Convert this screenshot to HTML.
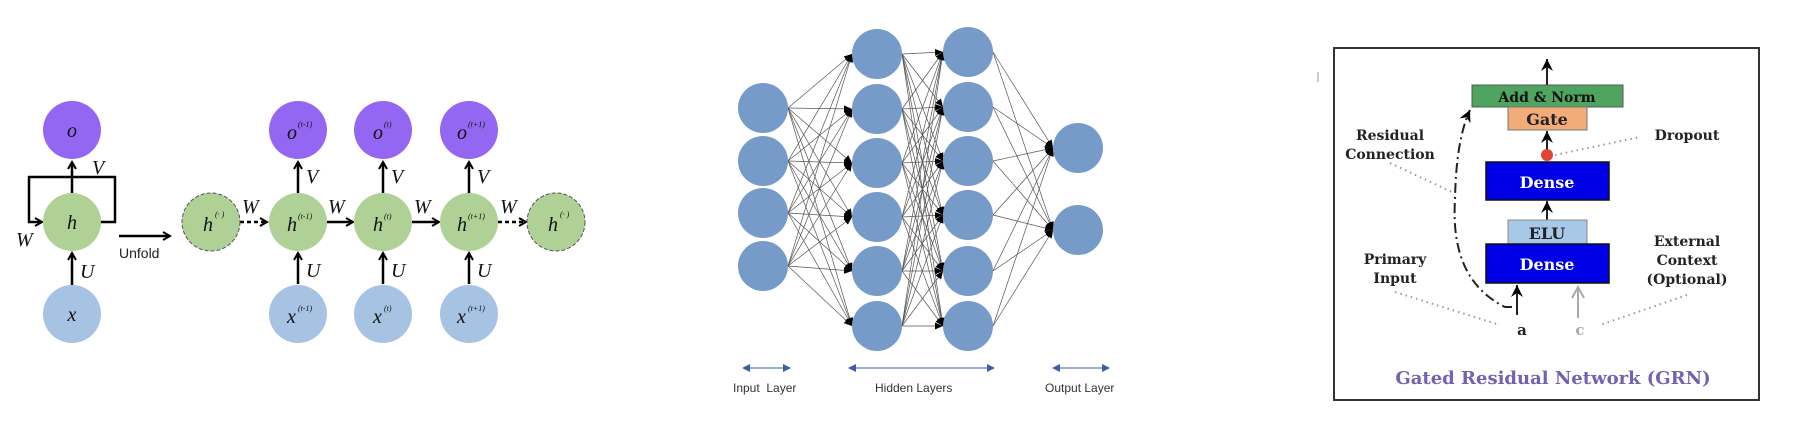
<!DOCTYPE html>
<html><head><meta charset="utf-8"><style>
html,body{margin:0;padding:0;background:#fff;}
svg{display:block}
.it{font-family:"Liberation Serif",serif;font-style:italic;fill:#111}
.nn{font-family:"Liberation Sans",sans-serif;font-size:12px;fill:#333;white-space:pre}
.sb{font-family:"DejaVu Serif","Liberation Serif",serif;font-weight:bold;font-size:14px;fill:#222}
</style></head><body>
<svg width="1796" height="422" viewBox="0 0 1796 422" xmlns="http://www.w3.org/2000/svg">
<defs>
<marker id="ah" markerWidth="10" markerHeight="10" refX="8" refY="5" orient="auto" markerUnits="userSpaceOnUse">
<path d="M1,1 L8,5 L1,9" fill="none" stroke="#000" stroke-width="2"/></marker>
<marker id="nh" markerWidth="10" markerHeight="10" refX="8" refY="5" orient="auto" markerUnits="userSpaceOnUse">
<path d="M0,1.5 L8,5 L0,8.5 z" fill="#000"/></marker>
<marker id="gh" markerWidth="14" markerHeight="14" refX="12" refY="7" orient="auto" markerUnits="userSpaceOnUse">
<path d="M0,1 L12,7 L0,13 L4,7 z" fill="#000"/></marker>
<marker id="gg" markerWidth="14" markerHeight="14" refX="12" refY="7" orient="auto" markerUnits="userSpaceOnUse">
<path d="M1,1 L12,7 L1,13" fill="none" stroke="#aaa" stroke-width="2"/></marker>
</defs>

<!-- RNN -->
<g stroke="#000" stroke-width="2.5" fill="none">
<line x1="72" y1="193" x2="72" y2="162" marker-end="url(#ah)"/>
<line x1="72" y1="285" x2="72" y2="253" marker-end="url(#ah)"/>
<path d="M100,222 H115 V177 H29 V222 H42" marker-end="url(#ah)"/>
<line x1="119" y1="236" x2="170" y2="236" marker-end="url(#ah)"/>
<line x1="240" y1="222" x2="267" y2="222" stroke-dasharray="4,3" marker-end="url(#ah)"/>
<line x1="327" y1="222" x2="353" y2="222" marker-end="url(#ah)"/>
<line x1="412" y1="222" x2="439" y2="222" marker-end="url(#ah)"/>
<line x1="498" y1="222" x2="526" y2="222" stroke-dasharray="4,3" marker-end="url(#ah)"/>
<line x1="298" y1="193" x2="298" y2="162" marker-end="url(#ah)"/>
<line x1="383" y1="193" x2="383" y2="162" marker-end="url(#ah)"/>
<line x1="469" y1="193" x2="469" y2="162" marker-end="url(#ah)"/>
<line x1="298" y1="284" x2="298" y2="253" marker-end="url(#ah)"/>
<line x1="383" y1="284" x2="383" y2="253" marker-end="url(#ah)"/>
<line x1="469" y1="284" x2="469" y2="253" marker-end="url(#ah)"/>
</g>
<g>
<circle cx="72" cy="130" r="29" fill="#9467f2"/>
<circle cx="72" cy="222" r="29" fill="#b0d196"/>
<circle cx="72" cy="314" r="29" fill="#a6c3e3"/>
<circle cx="211" cy="222" r="29" fill="#b0d196" stroke="#555" stroke-dasharray="4,2"/>
<circle cx="556" cy="222" r="29" fill="#b0d196" stroke="#555" stroke-dasharray="4,2"/>
<circle cx="298" cy="130" r="29" fill="#9467f2"/>
<circle cx="383" cy="130" r="29" fill="#9467f2"/>
<circle cx="469" cy="130" r="29" fill="#9467f2"/>
<circle cx="298" cy="222" r="29" fill="#b0d196"/>
<circle cx="383" cy="222" r="29" fill="#b0d196"/>
<circle cx="469" cy="222" r="29" fill="#b0d196"/>
<circle cx="298" cy="314" r="29" fill="#a6c3e3"/>
<circle cx="383" cy="314" r="29" fill="#a6c3e3"/>
<circle cx="469" cy="314" r="29" fill="#a6c3e3"/>
</g>
<g class="it" font-size="20">
<text x="72" y="137" text-anchor="middle">o</text>
<text x="72" y="229" text-anchor="middle">h</text>
<text x="72" y="321" text-anchor="middle">x</text>
<text x="92" y="174">V</text>
<text x="16" y="246">W</text>
<text x="80" y="278">U</text>
<text x="242" y="213">W</text><text x="328" y="213">W</text><text x="414" y="213">W</text><text x="500" y="213">W</text>
<text x="306" y="183">V</text><text x="391" y="183">V</text><text x="477" y="183">V</text>
<text x="306" y="277">U</text><text x="391" y="277">U</text><text x="477" y="277">U</text>
<text x="203" y="231">h</text><text x="548" y="231">h</text>
<text x="287" y="231">h</text><text x="373" y="231">h</text><text x="457" y="231">h</text>
<text x="287" y="139">o</text><text x="373" y="139">o</text><text x="457" y="139">o</text>
<text x="287" y="323">x</text><text x="373" y="323">x</text><text x="457" y="323">x</text>
</g>
<g class="it" font-size="8">
<text x="215" y="217">(· )</text><text x="560" y="217">(· )</text>
<text x="298" y="219">(t-1)</text><text x="384" y="219">(t)</text><text x="468" y="219">(t+1)</text>
<text x="298" y="127">(t-1)</text><text x="384" y="127">(t)</text><text x="468" y="127">(t+1)</text>
<text x="298" y="311">(t-1)</text><text x="384" y="311">(t)</text><text x="468" y="311">(t+1)</text>
</g>
<text x="119" y="258" font-family="Liberation Sans,sans-serif" font-size="14" fill="#222">Unfold</text>

<!-- NN -->
<g id="nnedges" stroke="#555" stroke-width="0.7" fill="none"></g>
<g fill="#769bc8">
<circle cx="763" cy="108" r="25"/><circle cx="763" cy="161" r="25"/><circle cx="763" cy="213" r="25"/><circle cx="763" cy="266" r="25"/>
<circle cx="877" cy="54" r="25"/><circle cx="877" cy="109" r="25"/><circle cx="877" cy="163" r="25"/><circle cx="877" cy="217" r="25"/><circle cx="877" cy="271" r="25"/><circle cx="877" cy="326" r="25"/>
<circle cx="968" cy="52" r="25"/><circle cx="968" cy="107" r="25"/><circle cx="968" cy="161" r="25"/><circle cx="968" cy="215" r="25"/><circle cx="968" cy="271" r="25"/><circle cx="968" cy="326" r="25"/>
<circle cx="1078" cy="148" r="25"/><circle cx="1078" cy="230" r="25"/>
</g>
<g stroke="#3a5ea8" stroke-width="1">
<line x1="748" y1="368" x2="785" y2="368"/>
<line x1="854" y1="368" x2="989" y2="368"/>
<line x1="1058" y1="368" x2="1104" y2="368"/>
</g>
<path d="M742,368 l8,-4 v8z M791,368 l-8,-4 v8z M848,368 l8,-4 v8z M995,368 l-8,-4 v8z M1052,368 l8,-4 v8z M1110,368 l-8,-4 v8z" fill="#3a5ea8"/>
<text class="nn" x="733" y="392" xml:space="preserve">Input  Layer</text>
<text class="nn" x="875" y="392">Hidden Layers</text>
<text class="nn" x="1045" y="392">Output Layer</text>

<!-- GRN -->
<rect x="1334" y="48" width="425" height="352" fill="#fff" stroke="#333" stroke-width="2"/>
<line x1="1318" y1="72" x2="1318" y2="82" stroke="#999" stroke-width="1"/>
<g stroke="#222" stroke-width="2" fill="none">
<line x1="1547" y1="85" x2="1547" y2="59" marker-end="url(#gh)"/>
<line x1="1547" y1="150" x2="1547" y2="131" marker-end="url(#gh)"/>
<line x1="1547" y1="220" x2="1547" y2="201" marker-end="url(#gh)"/>
<line x1="1517" y1="315" x2="1517" y2="285" marker-end="url(#gh)"/>
<path d="M1512,307 H1505 Q1450,280 1455,200 Q1456,140 1470,110" stroke-dasharray="10,4,2,4" marker-end="url(#gh)"/>
</g>
<line x1="1578" y1="318" x2="1578" y2="287" stroke="#aaa" stroke-width="2" marker-end="url(#gg)"/>
<g stroke="#999" stroke-width="2" stroke-dasharray="1.5,4" fill="none">
<line x1="1390" y1="163" x2="1452" y2="192"/>
<line x1="1555" y1="155" x2="1640" y2="137"/>
<line x1="1395" y1="292" x2="1500" y2="325"/>
<line x1="1687" y1="295" x2="1600" y2="325"/>
</g>
<rect x="1472" y="85" width="151" height="22" fill="#4fa55f" stroke="#555" stroke-width="1"/>
<rect x="1508" y="107" width="79" height="23" fill="#f1ac78" stroke="#777" stroke-width="1"/>
<circle cx="1547" cy="155" r="6" fill="#e04535"/>
<rect x="1486" y="162" width="123" height="38" fill="#0000e6" stroke="#111" stroke-width="1.5"/>
<rect x="1508" y="220" width="79" height="24" fill="#a8c8e8" stroke="#888" stroke-width="1"/>
<rect x="1486" y="244" width="123" height="39" fill="#0000e6" stroke="#111" stroke-width="1.5"/>
<g font-family="DejaVu Serif,Liberation Serif,serif" font-weight="bold" text-anchor="middle">
<text x="1547" y="102" font-size="14" fill="#111">Add &amp; Norm</text>
<text x="1547" y="125" font-size="16" fill="#222">Gate</text>
<text x="1547" y="188" font-size="16" fill="#fff">Dense</text>
<text x="1547" y="239" font-size="16" fill="#222">ELU</text>
<text x="1547" y="270" font-size="16" fill="#fff">Dense</text>
<text x="1522" y="335" font-size="15" fill="#222">a</text>
<text x="1580" y="335" font-size="15" fill="#aaa">c</text>
<text x="1390" y="140" class="sb">Residual</text>
<text x="1390" y="159" class="sb">Connection</text>
<text x="1687" y="140" class="sb">Dropout</text>
<text x="1395" y="264" class="sb">Primary</text>
<text x="1395" y="283" class="sb">Input</text>
<text x="1687" y="246" class="sb">External</text>
<text x="1687" y="265" class="sb">Context</text>
<text x="1687" y="284" class="sb">(Optional)</text>
<text x="1553" y="384" font-size="18" fill="#7162b3">Gated Residual Network (GRN)</text>
</g>
</svg>
<script>
(function(){
var L=[[763,[108,161,213,266]],[877,[54,109,163,217,271,326]],[968,[52,107,161,215,271,326]],[1078,[148,230]]];
var g=document.getElementById('nnedges'),s='';
for(var i=0;i<3;i++){var a=L[i],b=L[i+1];
for(var p=0;p<a[1].length;p++)for(var q=0;q<b[1].length;q++){
s+='<line x1="'+(a[0]+25)+'" y1="'+a[1][p]+'" x2="'+(b[0]-25)+'" y2="'+b[1][q]+'" marker-end="url(#nh)"/>';}}
g.innerHTML=s;})();
</script>
</body></html>
